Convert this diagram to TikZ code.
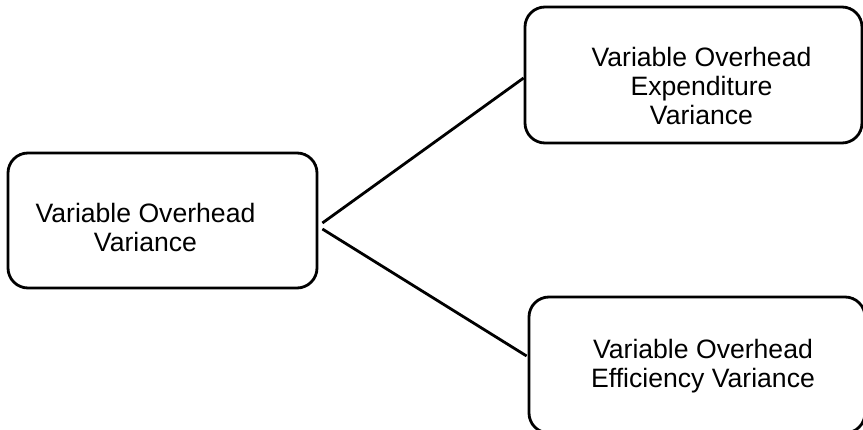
\documentclass[tikz,border=0pt]{standalone}
\usepackage{fontspec}
\setmainfont{Liberation Sans}
\begin{document}
\begin{tikzpicture}[x=1pt, y=-1pt, line width=2.8pt,
    varbox/.style={draw, rounded corners=20pt, align=center, inner sep=0pt},
    vartext/.style={align=center, font=\fontsize{26.6}{29}\selectfont}]
    \useasboundingbox (0,0) rectangle (863,430);

    % Boxes
    \node[varbox, minimum width=309pt, minimum height=135pt,
      label={[vartext, xshift=-17pt, yshift=-7pt]center:Variable Overhead\\Variance}]
      (vo) at (162.5,220.5) {};
    \node[varbox, minimum width=337pt, minimum height=136pt,
      label={[vartext, xshift=8pt, yshift=-11pt]center:Variable Overhead\\Expenditure\\Variance}]
      (voexp) at (693.5,75) {};
    \node[varbox, minimum width=336pt, minimum height=136pt,
      label={[vartext, xshift=6pt, yshift=-1pt]center:Variable Overhead\\Efficiency Variance}]
      (voeff) at (697,365) {};

    % Branches
    \draw ([shift={(4,2.5)}]vo.east) -- ([shift={(0,3)}]voexp.west);
    \draw ([shift={(4,8.5)}]vo.east) -- ([shift={(-1,-9)}]voeff.west);
\end{tikzpicture}
\end{document}
